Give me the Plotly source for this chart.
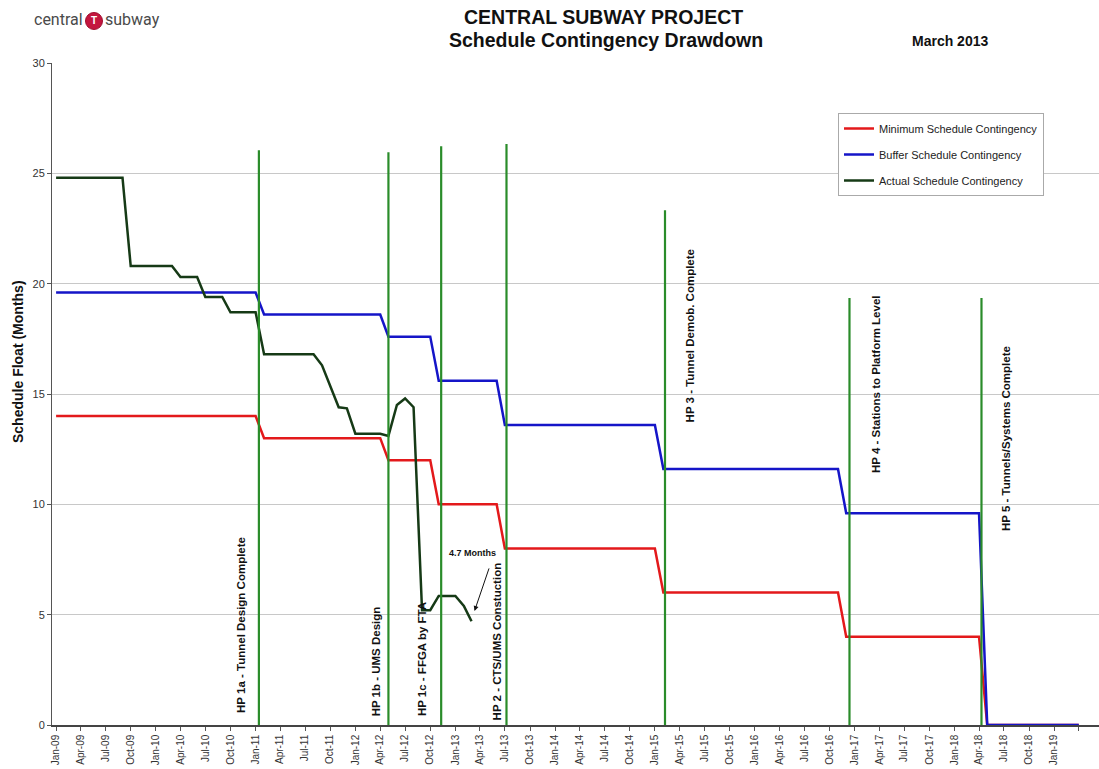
import plotly.graph_objects as go
import pandas as pd

# ---------------- data ----------------
min_dates = ["2009-01-01", "2011-01-01", "2011-02-01", "2012-04-01", "2012-05-01",
             "2012-10-01", "2012-11-01", "2013-06-01", "2013-07-01", "2015-01-01",
             "2015-02-01", "2016-11-01", "2016-12-01", "2018-04-01", "2018-05-01",
             "2019-04-01"]
min_values = [14, 14, 13, 13, 12, 12, 10, 10, 8, 8, 6, 6, 4, 4, 0, 0]

buf_dates = min_dates
buf_values = [19.6, 19.6, 18.6, 18.6, 17.6, 17.6, 15.6, 15.6, 13.6, 13.6,
              11.6, 11.6, 9.6, 9.6, 0, 0]

act_dates = ["2009-01-01", "2009-09-01", "2009-10-01", "2010-03-01", "2010-04-01",
             "2010-06-01", "2010-07-01", "2010-09-01", "2010-10-01", "2011-01-01",
             "2011-02-01", "2011-08-01", "2011-09-01", "2011-10-01", "2011-11-01",
             "2011-12-01", "2012-01-01", "2012-04-01", "2012-05-01", "2012-06-01",
             "2012-07-01", "2012-08-01", "2012-09-01", "2012-10-01", "2012-11-01",
             "2012-12-01", "2013-01-01", "2013-02-01", "2013-03-01"]
act_values = [24.8, 24.8, 20.8, 20.8, 20.3, 20.3, 19.4, 19.4, 18.7, 18.7,
              16.8, 16.8, 16.3, 15.35, 14.4, 14.35, 13.2, 13.2, 13.1, 14.5,
              14.8, 14.4, 5.2, 5.2, 5.85, 5.85, 5.85, 5.4, 4.7]

milestone_names = ["HP 1a - Tunnel Design Complete", "HP 1b - UMS Design",
                   "HP 1c - FFGA by FTA", "HP 2 - CTS/UMS Constuction",
                   "HP 3 - Tunnel Demob. Complete", "HP 4 - Stations to Platform Level",
                   "HP 5 - Tunnels/Systems Complete"]
milestone_dates = ["2011-01-13", "2012-05-01", "2012-11-10", "2013-07-07",
                   "2015-02-07", "2016-12-13", "2018-04-10"]
milestone_tops = [26.05, 25.96, 26.23, 26.33, 23.33, 19.35, 19.35]
label_bottoms = [0.45, 0.32, 0.32, 0.14, 13.6, 11.33, 8.7]

x_tick_labels = ["Jan-09", "Apr-09", "Jul-09", "Oct-09", "Jan-10", "Apr-10", "Jul-10", "Oct-10",
                 "Jan-11", "Apr-11", "Jul-11", "Oct-11", "Jan-12", "Apr-12", "Jul-12", "Oct-12",
                 "Jan-13", "Apr-13", "Jul-13", "Oct-13", "Jan-14", "Apr-14", "Jul-14", "Oct-14",
                 "Jan-15", "Apr-15", "Jul-15", "Oct-15", "Jan-16", "Apr-16", "Jul-16", "Oct-16",
                 "Jan-17", "Apr-17", "Jul-17", "Oct-17", "Jan-18", "Apr-18", "Jul-18", "Oct-18",
                 "Jan-19", ""]
x_tick_dates = ["2009-01-01", "2009-04-01", "2009-07-01", "2009-10-01", "2010-01-01",
                "2010-04-01", "2010-07-01", "2010-10-01", "2011-01-01", "2011-04-01",
                "2011-07-01", "2011-10-01", "2012-01-01", "2012-04-01", "2012-07-01",
                "2012-10-01", "2013-01-01", "2013-04-01", "2013-07-01", "2013-10-01",
                "2014-01-01", "2014-04-01", "2014-07-01", "2014-10-01", "2015-01-01",
                "2015-04-01", "2015-07-01", "2015-10-01", "2016-01-01", "2016-04-01",
                "2016-07-01", "2016-10-01", "2017-01-01", "2017-04-01", "2017-07-01",
                "2017-10-01", "2018-01-01", "2018-04-01", "2018-07-01", "2018-10-01",
                "2019-01-01", "2019-04-01"]
x_range = ["2008-12-17", "2019-06-14"]
y_ticks = [0, 5, 10, 15, 20, 25, 30]

# ---------------- layout helpers ----------------
W, H = 1099, 769
L, R, T, B = 52, 0, 63, 44
PW, PH = W - L - R, H - T - B
FONT = "Arial, Liberation Sans, sans-serif"


def px_x(px):
    return (px - L) / PW


def px_y(py):
    return (H - B - py) / PH


label_shift = [-18, -12, -19, -10, 25, 27, 24]

fig = go.Figure()

fig.add_trace(go.Scatter(x=min_dates, y=min_values, mode="lines",
                         name="Minimum Schedule Contingency", legendgroup="a",
                         line=dict(color="#e3191b", width=2.5)))
fig.add_trace(go.Scatter(x=buf_dates, y=buf_values, mode="lines",
                         name="Buffer Schedule Contingency", legendgroup="b",
                         line=dict(color="#1515c8", width=2.5)))
fig.add_trace(go.Scatter(x=act_dates, y=act_values, mode="lines",
                         name="Actual Schedule Contingency", legendgroup="c",
                         line=dict(color="#163a16", width=2.5)))

mx, my = [], []
for d, h in zip(milestone_dates, milestone_tops):
    mx += [d, d, None]
    my += [0, h, None]
fig.add_trace(go.Scatter(x=mx, y=my, mode="lines", showlegend=False,
                         line=dict(color="#2a8c2a", width=2.2), hoverinfo="skip"))

annotations = []
for name, d, yb, sh in zip(milestone_names, milestone_dates, label_bottoms, label_shift):
    annotations.append(dict(x=d, y=yb, xref="x", yref="y", text="<b>%s</b>" % name,
                            textangle=-90, showarrow=False, xanchor="center",
                            yanchor="bottom", xshift=sh,
                            font=dict(family=FONT, size=11.5, color="#111")))


def paper_text(text, px, py, size, **kw):
    d = dict(x=px_x(px), y=px_y(py), xref="paper", yref="paper", text=text,
             showarrow=False, xanchor=kw.pop("xanchor", "center"),
             yanchor=kw.pop("yanchor", "middle"),
             font=dict(family=kw.pop("family", FONT), size=size,
                       color=kw.pop("color", "#111")))
    d.update(kw)
    return d


# "4.7 Months" callout
annotations.append(paper_text("<b>4.7 Months</b>", 472, 553, 9))
annotations.append(dict(x="2013-03-12", y=5.17, xref="x", yref="y", text="",
                        showarrow=True, arrowhead=2, arrowsize=1, arrowwidth=1,
                        arrowcolor="#111", ax=15, ay=-44))

# titles
annotations.append(paper_text("<b>CENTRAL SUBWAY PROJECT</b>", 603, 17, 19.5))
annotations.append(paper_text("<b>Schedule Contingency Drawdown</b>", 606, 40, 19.5))
annotations.append(paper_text("<b>March 2013</b>", 950, 41, 14))
# y-axis title
annotations.append(paper_text("<b>Schedule Float (Months)</b>", 18, 362, 14, textangle=-90))
# logo
LOGO_FONT = "Roboto, Liberation Sans Narrow, sans-serif"
annotations.append(paper_text("central", 85, 20, 16, xanchor="right",
                              family=LOGO_FONT, color="#4a4a4a"))
annotations.append(paper_text("subway", 103, 20, 16, xanchor="left",
                              family=LOGO_FONT, color="#4a4a4a"))
annotations.append(paper_text("<b>T</b>", 94, 21, 10, color="white"))

shapes = [dict(type="circle", xref="paper", yref="paper",
               x0=px_x(85.5), x1=px_x(102.5), y0=px_y(29.5), y1=px_y(12.5),
               fillcolor="#c4163f", line=dict(color="#a01030", width=1), layer="above")]

fig.update_layout(
    width=W, height=H,
    margin=dict(l=L, r=R, t=T, b=B),
    paper_bgcolor="white", plot_bgcolor="white",
    font=dict(family=FONT, color="#222"),
    annotations=annotations, shapes=shapes,
    legend=dict(x=px_x(838), y=px_y(113), xanchor="left", yanchor="top",
                bgcolor="white", bordercolor="#aaaaaa", borderwidth=1,
                font=dict(family=FONT, size=11, color="#222"),
                tracegroupgap=7, itemwidth=30),
    xaxis=dict(type="date", range=x_range, tickmode="array",
               tickvals=pd.to_datetime(x_tick_dates), ticktext=x_tick_labels,
               tickangle=-90, showgrid=False,
               ticks="outside", ticklen=4, tickcolor="#555",
               tickfont=dict(family=FONT, size=10, color="#333"),
               showline=True, linecolor="#444", linewidth=1.5, zeroline=False),
    yaxis=dict(range=[0, 30], tickvals=y_ticks, showgrid=True, gridcolor="#c8c8c8",
               gridwidth=1, ticks="outside", ticklen=4, tickcolor="#555",
               tickfont=dict(family=FONT, size=11, color="#333"),
               showline=True, linecolor="#555", linewidth=1, zeroline=False),
    showlegend=True,
)

fig.write_html("out.html", config={"displayModeBar": False},
               post_script="document.body.style.margin='0';document.body.style.padding='0';")
